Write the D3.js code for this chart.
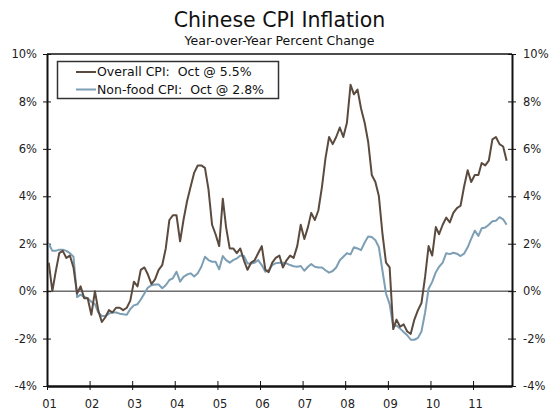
<!DOCTYPE html>
<html>
<head>
<meta charset="utf-8">
<script src="https://cdn.jsdelivr.net/npm/d3@7"></script>
<style>
  body { margin: 0; background: #fff; }
  svg { display: block; font-family: "DejaVu Sans", Verdana, sans-serif; }
</style>
</head>
<body>
<svg width="551" height="410"></svg>
<script>
// Year labels on the x axis
var yearLabels = ['01', '02', '03', '04', '05', '06', '07', '08', '09', '10', '11'];
var yTicks = [-4, -2, 0, 2, 4, 6, 8, 10];

// Monthly series, Jan 2001 .. Oct 2011 (year-over-year %)
var overallCPI = [
    1.2, 0.0, 0.8, 1.6, 1.7, 1.4, 1.5, 1.0, -0.1, 0.2, -0.3, -0.3,
    -1.0, 0.0, -0.8, -1.3, -1.1, -0.8, -0.9, -0.7, -0.7, -0.8, -0.7, -0.4,
    0.4, 0.2, 0.9, 1.0, 0.7, 0.3, 0.5, 0.9, 1.1, 1.8, 3.0, 3.2,
    3.2, 2.1, 3.0, 3.8, 4.4, 5.0, 5.3, 5.3, 5.2, 4.3, 2.8, 2.4,
    1.9, 3.9, 2.7, 1.8, 1.8, 1.6, 1.8, 1.3, 0.9, 1.2, 1.3, 1.6,
    1.9, 0.9, 0.8, 1.2, 1.4, 1.5, 1.0, 1.3, 1.5, 1.4, 1.9, 2.8,
    2.2, 2.7, 3.3, 3.0, 3.4, 4.4, 5.6, 6.5, 6.2, 6.5, 6.9, 6.5,
    7.1, 8.7, 8.3, 8.5, 7.7, 7.1, 6.3, 4.9, 4.6, 4.0, 2.4, 1.2,
    1.0, -1.6, -1.2, -1.5, -1.4, -1.7, -1.8, -1.2, -0.8, -0.5, 0.6, 1.9,
    1.5, 2.7, 2.4, 2.8, 3.1, 2.9, 3.3, 3.5, 3.6, 4.4, 5.1, 4.6,
    4.9, 4.9, 5.4, 5.3, 5.5, 6.4, 6.5, 6.2, 6.1, 5.5
];
var nonFoodCPI = [
    2.0, 1.7, 1.7, 1.75, 1.75, 1.7, 1.6, 1.45, -0.25, -0.15, -0.25, -0.3,
    -0.45, -0.55, -0.9, -1.05, -1.05, -0.95, -0.9, -0.9, -0.95, -0.97, -1.0, -0.75,
    -0.6, -0.55, -0.35, -0.1, 0.15, 0.25, 0.28, 0.28, 0.12, 0.25, 0.47, 0.54,
    0.82, 0.4, 0.6, 0.7, 0.75, 0.62, 0.75, 1.03, 1.45, 1.31, 1.24, 1.24,
    0.92, 1.48, 1.31, 1.2, 1.31, 1.38, 1.5, 1.48, 1.17, 1.17, 1.2, 1.31,
    1.1, 0.82, 0.89, 1.1, 1.18, 1.2, 1.2, 1.17, 1.1, 1.05, 1.03, 1.06,
    0.86, 1.03, 1.14, 1.03, 1.0, 1.0, 0.88, 0.78, 0.85, 1.0, 1.3, 1.45,
    1.6, 1.55, 1.85, 1.8, 1.73, 2.05, 2.3, 2.28, 2.15, 1.85, 0.85, -0.1,
    -0.55, -1.5, -1.45, -1.58, -1.72, -1.86, -2.05, -2.05, -1.97, -1.7, -0.9, 0.1,
    0.39, 0.8, 1.03, 1.2, 1.6, 1.56, 1.62, 1.58, 1.48, 1.58, 1.85, 2.2,
    2.55, 2.33, 2.65, 2.68, 2.8, 2.95, 2.97, 3.12, 3.03, 2.8
];

var legendLabels = ['Overall CPI:  Oct @ 5.5%', 'Non-food CPI:  Oct @ 2.8%'];
var colors = ['#5b4a3e', '#7d9fb5'];

var svg = d3.select('svg');
var plot = {l: 47, r: 512, t: 54, b: 386};

var x = d3.scaleTime()
    .domain([new Date(2001, 0, 1), new Date(2011, 11, 1)])
    .range([plot.l, plot.r]);
var y = d3.scaleLinear().domain([-4, 10]).range([plot.b, plot.t]);

// mid-month positions
function monthDate(i) { return new Date(2001, i, 16); }

// Title
svg.append('text')
    .attr('x', (plot.l + plot.r) / 2).attr('y', 27)
    .attr('text-anchor', 'middle')
    .attr('font-size', 20.5).attr('fill', '#111')
    .text('Chinese CPI Inflation');
svg.append('text')
    .attr('x', (plot.l + plot.r) / 2).attr('y', 45)
    .attr('text-anchor', 'middle')
    .attr('font-size', 12.5).attr('fill', '#111')
    .text('Year-over-Year Percent Change');

// Top border
svg.append('line')
    .attr('x1', plot.l).attr('x2', plot.r)
    .attr('y1', plot.t).attr('y2', plot.t)
    .attr('stroke', '#111').attr('stroke-width', 1.5);

// Zero line
svg.append('line')
    .attr('x1', plot.l).attr('x2', plot.r)
    .attr('y1', y(0)).attr('y2', y(0))
    .attr('stroke', '#222').attr('stroke-width', 1);

// Y axes (left and right), ticks crossing the axis line
function fmtPct(d) { return d + '%'; }

var leftAxis = svg.append('g')
    .attr('transform', 'translate(' + plot.l + ',0)')
    .call(d3.axisLeft(y).tickValues(yTicks).tickFormat(fmtPct).tickSize(4).tickSizeOuter(0));
var rightAxis = svg.append('g')
    .attr('transform', 'translate(' + plot.r + ',0)')
    .call(d3.axisRight(y).tickValues(yTicks).tickFormat(fmtPct).tickSize(4).tickSizeOuter(0));

[leftAxis, rightAxis].forEach(function(g, k) {
    g.select('.domain').attr('stroke', '#111').attr('stroke-width', 2);
    g.selectAll('.tick line')
        .attr('x1', -4).attr('x2', 4)
        .attr('stroke', '#111').attr('stroke-width', 1);
    g.selectAll('.tick text')
        .attr('x', k === 0 ? -10 : 11)
        .attr('font-size', 11.5).attr('fill', '#222')
        .attr('font-family', '"DejaVu Sans", Verdana, sans-serif');
});

// X axis
var yearDates = yearLabels.map(function(d, i) { return new Date(2001 + i, 0, 1); });
var bottomAxis = svg.append('g')
    .attr('transform', 'translate(0,' + plot.b + ')')
    .call(d3.axisBottom(x).tickValues(yearDates)
        .tickFormat(function(d, i) { return yearLabels[i]; })
        .tickSize(4).tickSizeOuter(0));
bottomAxis.select('.domain').attr('stroke', '#111').attr('stroke-width', 2.5);
bottomAxis.selectAll('.tick line')
    .attr('y1', -5).attr('y2', 4)
    .attr('stroke', '#111').attr('stroke-width', 1);
bottomAxis.selectAll('.tick text')
    .attr('y', 14).attr('dx', 2)
    .attr('font-size', 11.5).attr('fill', '#222')
    .attr('font-family', '"DejaVu Sans", Verdana, sans-serif');

// Lines
var line = d3.line()
    .x(function(d, i) { return x(monthDate(i)); })
    .y(function(d) { return y(d); });

svg.append('path')
    .datum(nonFoodCPI)
    .attr('fill', 'none')
    .attr('stroke', colors[1])
    .attr('stroke-width', 2)
    .attr('stroke-linejoin', 'round')
    .attr('d', line);

svg.append('path')
    .datum(overallCPI)
    .attr('fill', 'none')
    .attr('stroke', colors[0])
    .attr('stroke-width', 2)
    .attr('stroke-linejoin', 'round')
    .attr('d', line);

// Legend
var legend = svg.append('g');
legend.append('rect')
    .attr('x', 57.5).attr('y', 61.5)
    .attr('width', 221).attr('height', 37)
    .attr('fill', '#fff')
    .attr('stroke', '#333').attr('stroke-width', 1.5);

legendLabels.forEach(function(label, i) {
    var ly = 72 + i * 17.5;
    legend.append('line')
        .attr('x1', 76).attr('x2', 96)
        .attr('y1', ly).attr('y2', ly)
        .attr('stroke', colors[i]).attr('stroke-width', 2);
    legend.append('text')
        .attr('x', 97).attr('y', ly)
        .attr('dy', '0.35em')
        .attr('font-size', 12.5).attr('fill', '#111')
        .attr('xml:space', 'preserve')
        .style('white-space', 'pre')
        .text(label);
});
</script>
</body>
</html>
